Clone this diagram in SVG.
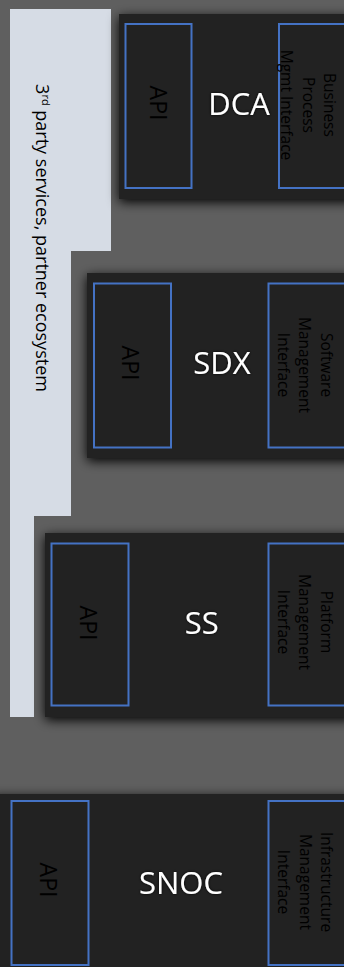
<svg xmlns="http://www.w3.org/2000/svg" width="344" height="967" viewBox="0 0 344 967">
  <style>
    .bg { fill: #5f5f5f; }
    .panel { fill: #d6dce5; }
    .layer { fill: #222222; }
    .port { fill: #222222; stroke: #4472c4; stroke-width: 2; }
    .title { font-family: "Open Sans", "Liberation Sans", sans-serif; font-size: 31px; fill: #ffffff; text-anchor: middle; }
    .api { font-family: "Open Sans", "Liberation Sans", sans-serif; font-size: 23px; fill: #000000; text-anchor: middle; }
    .iface { font-family: "Open Sans", "Liberation Sans", sans-serif; font-size: 15.5px; fill: #000000; text-anchor: middle; }
    .side { font-family: "Open Sans", "Liberation Sans", sans-serif; font-size: 18px; fill: #000000; text-anchor: middle; }
  </style>
  <defs>
    <filter id="shadow" x="-20%" y="-20%" width="140%" height="140%">
      <feGaussianBlur in="SourceAlpha" stdDeviation="6"/>
      <feOffset dx="0" dy="3" result="b"/>
      <feComponentTransfer in="b" result="s"><feFuncA type="linear" slope="1"/></feComponentTransfer>
      <feMerge><feMergeNode in="s"/><feMergeNode in="SourceGraphic"/></feMerge>
    </filter>
    <filter id="glow" x="-20%" y="-30%" width="140%" height="160%">
      <feGaussianBlur in="SourceAlpha" stdDeviation="1.6" result="g"/>
      <feComponentTransfer in="g" result="h"><feFuncA type="linear" slope="0.9"/></feComponentTransfer>
      <feMerge><feMergeNode in="h"/><feMergeNode in="SourceGraphic"/></feMerge>
    </filter>
  </defs>

  <rect class="bg" x="0" y="0" width="344" height="967"/>

  <!-- partner ecosystem band, stepping in beside each layer -->
  <g id="partner-ecosystem">
    <polygon class="panel" points="10,9 111,9 111,251 71,251 71,516 34,516 34,717 10,717"/>
    <text class="side" transform="translate(41,238) rotate(90)" y="5">3<tspan dy="-6" font-size="11">rd</tspan><tspan dy="6"> party services, partner ecosystem</tspan></text>
  </g>

  <g id="node-dca">
    <rect class="layer" x="119" y="14" width="240" height="185" filter="url(#shadow)"/>
    <rect class="port" x="125.5" y="24" width="66" height="164"/>
    <rect class="port" x="279" y="24" width="80" height="164"/>
    <text class="title" x="239" y="115" filter="url(#glow)">DCA</text>
    <text class="api" transform="translate(158,103) rotate(90)" y="8">API</text>
    <text class="iface" transform="translate(308,105) rotate(90)"><tspan x="0" y="-16">Business</tspan><tspan x="0" dy="21.5">Process</tspan><tspan x="0" dy="21.5">Mgmt Interface</tspan></text>
  </g>

  <g id="node-sdx">
    <rect class="layer" x="87" y="273" width="270" height="185" filter="url(#shadow)"/>
    <rect class="port" x="94" y="283.5" width="77" height="164"/>
    <rect class="port" x="268.5" y="283.5" width="90" height="164"/>
    <text class="title" x="222" y="374" filter="url(#glow)">SDX</text>
    <text class="api" transform="translate(130,363) rotate(90)" y="8">API</text>
    <text class="iface" transform="translate(304.5,365) rotate(90)"><tspan x="0" y="-16">Software</tspan><tspan x="0" dy="21.5">Management</tspan><tspan x="0" dy="21.5">Interface</tspan></text>
  </g>

  <g id="node-ss">
    <rect class="layer" x="45" y="533" width="310" height="184" filter="url(#shadow)"/>
    <rect class="port" x="51.5" y="543.5" width="77" height="162"/>
    <rect class="port" x="268.5" y="543.5" width="90" height="162"/>
    <text class="title" x="201.7" y="634" filter="url(#glow)">SS</text>
    <text class="api" transform="translate(88,623) rotate(90)" y="8">API</text>
    <text class="iface" transform="translate(304.5,622) rotate(90)"><tspan x="0" y="-16">Platform</tspan><tspan x="0" dy="21.5">Management</tspan><tspan x="0" dy="21.5">Interface</tspan></text>
  </g>

  <g id="node-snoc">
    <rect class="layer" x="-10" y="794" width="370" height="190" filter="url(#shadow)"/>
    <rect class="port" x="11.5" y="801" width="77" height="164"/>
    <rect class="port" x="268.5" y="801" width="90" height="164"/>
    <text class="title" x="181" y="894" filter="url(#glow)">SNOC</text>
    <text class="api" transform="translate(48,880) rotate(90)" y="8">API</text>
    <text class="iface" transform="translate(305,882) rotate(90)"><tspan x="0" y="-16">Infrastructure</tspan><tspan x="0" dy="21.5">Management</tspan><tspan x="0" dy="21.5">Interface</tspan></text>
  </g>

  <g id="connectors"/>
</svg>
